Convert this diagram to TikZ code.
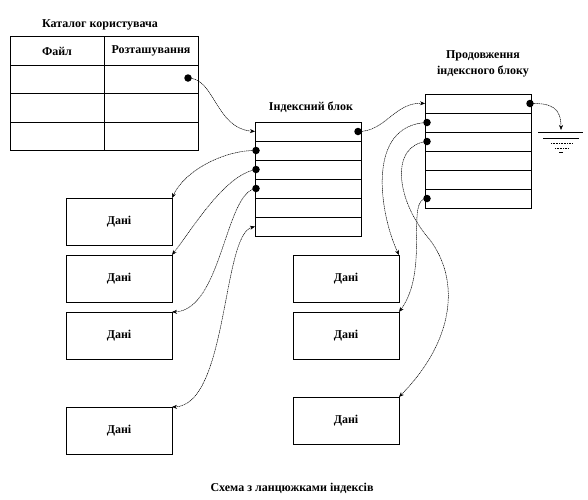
\documentclass[tikz,border=0pt]{standalone}
\usepackage{fontspec}
\setmainfont{Liberation Serif}
\usetikzlibrary{arrows.meta,positioning,calc}

\begin{document}
\begin{tikzpicture}[x=1pt,y=-1pt,
    cell/.style={draw, line width=0.6pt, inner sep=0pt, outer sep=0pt, minimum width=94pt, minimum height=28.5pt, font=\bfseries\fontsize{12}{14}\selectfont},
    row/.style={draw, line width=0.6pt, inner sep=0pt, outer sep=0pt, minimum width=106pt, minimum height=19pt},
    data/.style={draw, line width=0.6pt, inner sep=0pt, outer sep=0pt, minimum width=106pt, minimum height=47pt, font=\bfseries\fontsize{12}{14}\selectfont},
    lbl/.style={font=\bfseries\fontsize{12}{14}\selectfont, align=center, inner sep=0pt},
    dot/.style={circle, fill=black, inner sep=0pt, minimum size=7.5pt},
    arr/.style={-{Stealth[length=5pt,width=4pt]}, line width=0.5pt, dash pattern=on 1.2pt off 0.6pt}
]
\useasboundingbox (0,0) rectangle (588,499);

% каталог користувача
\node[lbl] (cattitle) at (100,25) {Каталог користувача};
\node[cell] (c0a) at (57,51) {Файл};
\node[cell] (c0b) at (151,51) {Розташування};
\foreach \i in {1,2,3} {
  \node[cell] (c\i a) at (57,51+28.5*\i) {};
  \node[cell] (c\i b) at (151,51+28.5*\i) {};
}
\node[dot] (catdot) at (188,78) {};

% індексний блок
\node[lbl] (ibtitle) at (311,107) {Індексний блок};
\foreach \i in {1,...,6}
  \node[row] (ib\i) at (308,131.5+19*\i-19) {};
\node[dot] (ibr) at ($(ib1.east)+(-3,0)$) {};
\node[dot] (ibl2) at ($(ib2.west)+(1,0)$) {};
\node[dot] (ibl3) at ($(ib3.west)+(1,0)$) {};
\node[dot] (ibl4) at ($(ib4.west)+(1,0)$) {};

% продовження індексного блоку
\node[lbl] (cbtitle) at (483,64) {Продовження\\[2pt]індексного блоку};
\foreach \i in {1,...,6}
  \node[row] (cb\i) at (478,103.5+19*\i-19) {};
\node[dot] (cbr) at ($(cb1.east)+(-1,0)$) {};
\node[dot] (cbl2) at ($(cb2.west)+(2,0)$) {};
\node[dot] (cbl3) at ($(cb3.west)+(2,0)$) {};
\node[dot] (cbl6) at ($(cb6.west)+(2,0)$) {};

% заземлення
\coordinate (gnd) at (561,130);
\draw[line width=0.6pt] (538,132) -- (583,132);
\draw[line width=0.6pt] (543,138) -- (579,138);
\draw[line width=0.6pt, densely dotted] (551,143) -- (572,143);
\draw[line width=0.6pt, densely dotted] (555,148) -- (568,148);
\draw[line width=0.6pt] (559,152) -- (563,152);

% дані
\node[data] (d1) at (119,221.5) {Дані};
\node[data] (d2) at (119,278.5) {Дані};
\node[data] (d3) at (119,335.5) {Дані};
\node[data] (d4) at (119,430.5) {Дані};
\node[data] (d5) at (346,278.5) {Дані};
\node[data] (d6) at (346,335.5) {Дані};
\node[data] (d7) at (346,420.5) {Дані};

% зв'язки
\draw[arr] (catdot.center) .. controls (215,78) and (215,128) .. (ib1.west);
\draw[arr] (ibr.center) .. controls (385,132) and (395,102) .. (cb1.west);
\draw[arr] (cbr.center) .. controls (552,103) and (561,108) .. (gnd);

\draw[arr] (ibl2.center) .. controls (225,150) and (185,170) .. (d1.north east);
\draw[arr] (ibl3.center) .. controls (225,175) and (195,225) .. (d2.north east);
\draw[arr] (ibl4.center) .. controls (225,192) and (222,310) .. (d3.north east);
\draw[{Stealth[length=5pt,width=4pt]}-{Stealth[length=5pt,width=4pt]}, line width=0.5pt, dash pattern=on 1.2pt off 0.6pt]
  (ib6.west) .. controls (222,235) and (228,405) .. (d4.north east);

\draw[arr] (cbl2.center) .. controls (365,125) and (380,215) .. (d5.north east);
\draw[arr] (cbl6.center) .. controls (405,198) and (430,270) .. (d6.north east);
\draw[arr] (cbl3.center) .. controls (390,145) and (395,200) .. (430,240)
  .. controls (460,280) and (455,340) .. (d7.north east);

\node[lbl] (caption) at (292,488) {Схема з ланцюжками індексів};
\end{tikzpicture}
\end{document}
